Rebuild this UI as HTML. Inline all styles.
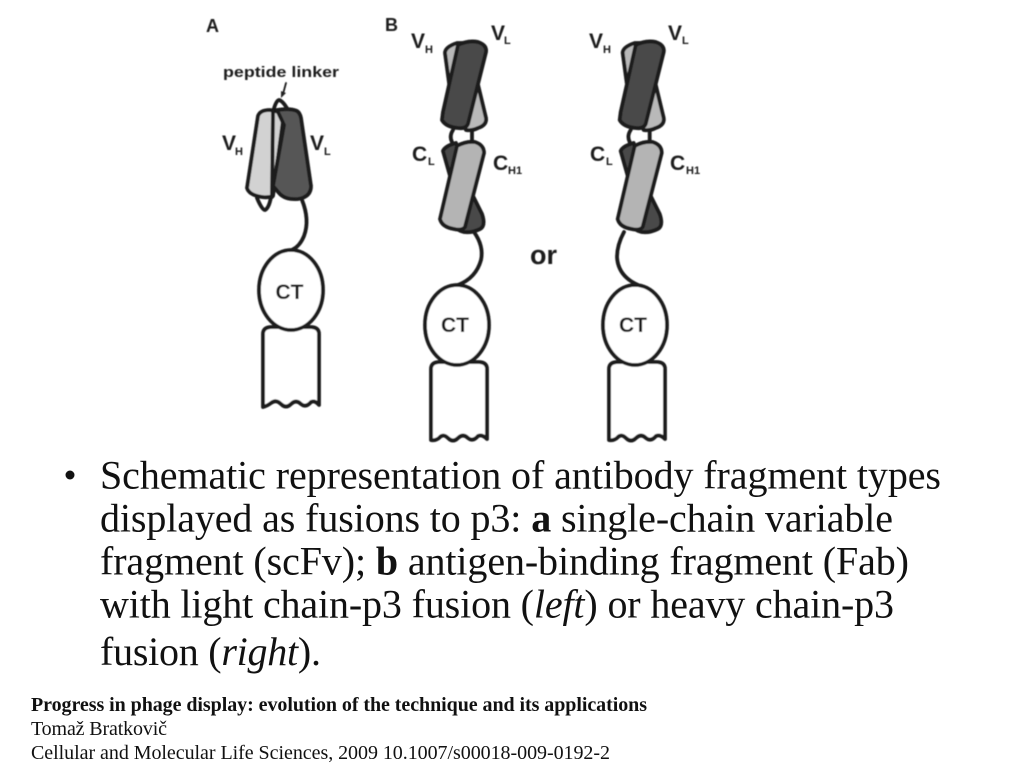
<!DOCTYPE html>
<html><head><meta charset="utf-8"><style>
html,body{margin:0;padding:0;background:#fff;width:1024px;height:768px;overflow:hidden}
svg{display:block}
.lb{font-family:"Liberation Sans",sans-serif;font-weight:bold;fill:#1c1c1c}
.t{font-family:"Liberation Serif",serif;fill:#111}
.o{stroke:#1a1a1a;stroke-width:3.8;stroke-linejoin:round;stroke-linecap:round}
.n{fill:none}
</style></head><body>
<svg width="1024" height="768" viewBox="0 0 1024 768" xmlns="http://www.w3.org/2000/svg">
<defs>
<filter id="b" x="-5%" y="-5%" width="110%" height="110%"><feGaussianBlur stdDeviation="0.45"/></filter>
<g id="fab">
 <path class="o" fill="#b9b9b9" d="M445 53Q445 47 457 43L468 43L486 118Q487 125 478 128Q472 131 466 130L450 90Z"/>
 <path class="o" fill="#4a4a4a" d="M458 45Q468 40 478 42Q487 45 486 52L468 124Q466 129 458 128Q446 127 442 120L443 112Z"/>
 <path class="o n" d="M453 130Q449 136 452 142M472 130L472 142"/>
 <path class="o" fill="#4a4a4a" d="M443 151Q445 146 456 143L470 190L482 214Q486 226 480 229Q472 233 464 232Q455 230 452 222L454 190Z"/>
 <path class="o" fill="#b4b4b4" d="M457 146Q466 141 475 142Q484 145 484 153L465 227Q462 231 454 229Q442 227 440 219Z"/>
</g>
<g id="stem">
 <path class="o" fill="#fff" d="M431 440L431 369Q431 362 440 362L478 362Q487 362 487 369L487 439Q482 434 478 436Q473 442 468 438Q463 433 458 438Q453 443 448 438Q443 433 439 438Q435 441 431 440Z"/>
 <ellipse class="o" cx="457" cy="325" rx="32" ry="40" fill="#fff"/>
</g>
</defs>
<g filter="url(#b)">
 <!-- Panel A -->
 <path class="o n" d="M273 112Q276 100 279 100Q283 101 288 110M257 198Q262 210 265 210Q269 208 271 197"/>
 <path class="o" fill="#d2d2d2" d="M258 116Q260 110 270 110L284 113L273 196Q268 198 262 197Q249 195 247 188Z"/>
 <path class="o" fill="#565656" d="M277 110Q290 108 297 111Q300 113 301 118L311 186Q311 197 298 199Q285 200 279 193L273 186L284 125Z"/>
 <path class="o n" d="M273 111L272 197"/>
 <path class="o n" d="M302 200Q310 220 304 236Q300 246 292 250"/>
 <path class="o" fill="#fff" d="M263 407L263 334Q263 327 272 327L310 327Q319 327 319 334L319 405Q315 400 311 402Q306 408 301 404Q296 399 291 404Q286 409 281 404Q276 399 271 403Q267 406 263 407Z"/>
 <ellipse class="o" cx="291" cy="290" rx="32" ry="40" fill="#fff"/>
 <path class="o n" style="stroke-width:1.8" d="M286 83L283 94"/>
 <path d="M281 98L286 93L281 91Z" fill="#222"/>

 <!-- Panel B -->
 <use href="#fab"/>
 <path class="o n" d="M474 232Q484 246 481 260Q476 278 458 285"/>
 <use href="#stem"/>

 <!-- Panel C -->
 <use href="#fab" x="177.7"/>
 <path class="o n" d="M624 232Q617 245 617 257Q618 276 638 285"/>
 <use href="#stem" x="178"/>

 <!-- Labels -->
 <text class="lb" x="206" y="32" font-size="18">A</text>
 <text class="lb" x="223" y="77" font-size="14.5" textLength="116" lengthAdjust="spacingAndGlyphs">peptide linker</text>
 <text class="lb" x="222" y="150" font-size="21">V</text><text class="lb" x="235" y="155" font-size="11">H</text>
 <text class="lb" x="310" y="150" font-size="21">V</text><text class="lb" x="324" y="155" font-size="11">L</text>
 <text class="lb" x="275.5" y="299" font-size="21">CT</text>

 <text class="lb" x="385" y="31" font-size="18">B</text>
 <text class="lb" x="411" y="48" font-size="21">V</text><text class="lb" x="425" y="53" font-size="11">H</text>
 <text class="lb" x="491" y="40" font-size="21">V</text><text class="lb" x="504" y="44" font-size="11">L</text>
 <text class="lb" x="412" y="161" font-size="21">C</text><text class="lb" x="428" y="165" font-size="11">L</text>
 <text class="lb" x="493" y="170" font-size="21">C</text><text class="lb" x="508" y="174" font-size="11">H1</text>
 <text class="lb" x="441" y="332" font-size="21">CT</text>
 <text class="lb" x="530" y="264" font-size="27">or</text>

 <text class="lb" x="589" y="48" font-size="21">V</text><text class="lb" x="603" y="53" font-size="11">H</text>
 <text class="lb" x="668" y="40" font-size="21">V</text><text class="lb" x="682" y="44" font-size="11">L</text>
 <text class="lb" x="590" y="161" font-size="21">C</text><text class="lb" x="606" y="165" font-size="11">L</text>
 <text class="lb" x="670" y="170" font-size="21">C</text><text class="lb" x="686" y="174" font-size="11">H1</text>
 <text class="lb" x="619" y="332" font-size="21">CT</text>
</g>

<g>
 <circle cx="70" cy="475" r="4.5" fill="#111"/>
 <text class="t" x="100" y="488.5" font-size="40" textLength="841">Schematic representation of antibody fragment types</text>
 <text class="t" x="100" y="531.5" font-size="40" textLength="793">displayed as fusions to p3: <tspan font-weight="bold">a</tspan> single-chain variable</text>
 <text class="t" x="100" y="574.5" font-size="40" textLength="809">fragment (scFv); <tspan font-weight="bold">b</tspan> antigen-binding fragment (Fab)</text>
 <text class="t" x="100" y="617.5" font-size="40" textLength="794">with light chain-p3 fusion (<tspan font-style="italic">left</tspan>) or heavy chain-p3</text>
 <text class="t" x="100" y="665" font-size="40" textLength="221">fusion (<tspan font-style="italic">right</tspan>).</text>
 <text class="t" x="31" y="711" font-size="20" font-weight="bold" textLength="616">Progress in phage display: evolution of the technique and its applications</text>
 <text class="t" x="31" y="735" font-size="20" textLength="136">Tomaž Bratkovič</text>
 <text class="t" x="31" y="759" font-size="20" textLength="579">Cellular and Molecular Life Sciences, 2009 10.1007/s00018-009-0192-2</text>
</g>
</svg>
</body></html>
